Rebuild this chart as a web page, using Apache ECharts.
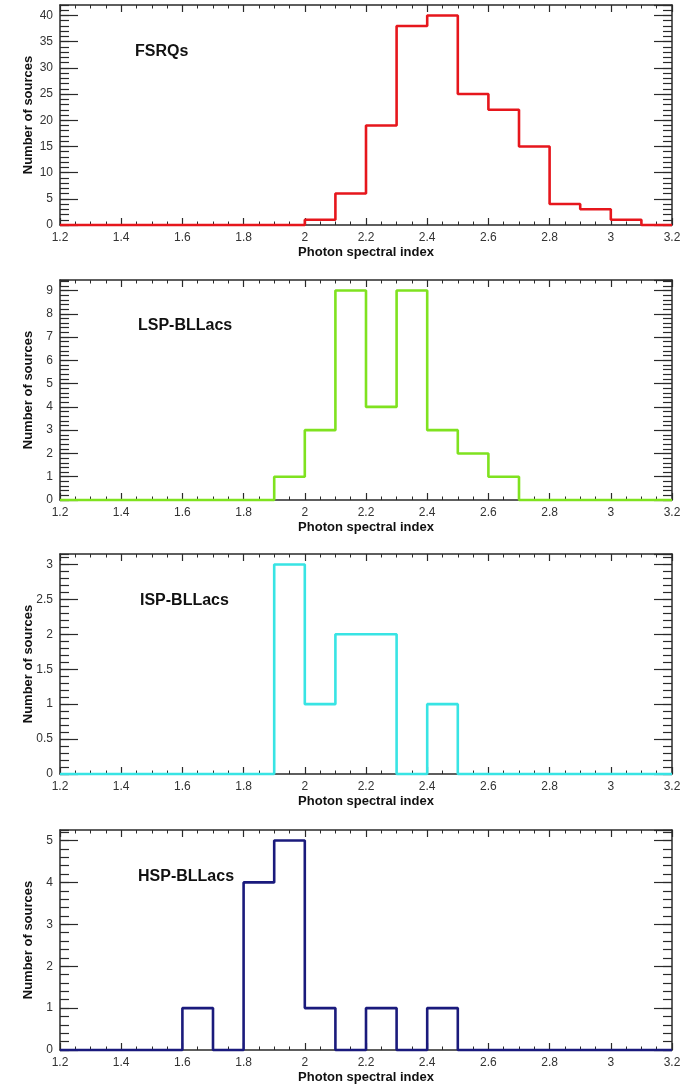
<!DOCTYPE html>
<html>
<head>
<meta charset="utf-8">
<script src="https://cdn.jsdelivr.net/npm/echarts@6/dist/echarts.min.js"></script>
<style>
html,body{margin:0;padding:0;background:#fff;}
#chart{width:684px;height:1085px;}
</style>
</head>
<body>
<div id="chart"></div>
<script>
// Bin edges of the photon spectral index histograms (width 0.1)
const binEdges = [1.2,1.3,1.4,1.5,1.6,1.7,1.8,1.9,2.0,2.1,2.2,2.3,2.4,2.5,2.6,2.7,2.8,2.9,3.0,3.1,3.2];
// Counts per bin (20 bins)
const fsrqCounts = [0,0,0,0,0,0,0,0,1,6,19,38,40,25,22,15,4,3,1,0];
const lspCounts  = [0,0,0,0,0,0,0,1,3,9,4,9,3,2,1,0,0,0,0,0];
const ispCounts  = [0,0,0,0,0,0,0,3,1,2,2,0,1,0,0,0,0,0,0,0];
const hspCounts  = [0,0,0,0,1,0,4,5,1,0,1,0,1,0,0,0,0,0,0,0];
const panelNames = ['FSRQs','LSP-BLLacs','ISP-BLLacs','HSP-BLLacs'];
const panelCounts = [fsrqCounts, lspCounts, ispCounts, hspCounts];
const panelColors = ['#e6161c','#7fe21f','#38e4e4','#1a1a7c'];
const yMaxes = [42, 9.45, 3.15, 5.25];
const yMajorSteps = [5, 1, 0.5, 1];
const yMinorSteps = [1, 0.2, 0.1, 0.2];
const xMin = 1.2, xMax = 3.2, xStep = 0.2;
const xTitle = 'Photon spectral index';
const yTitle = 'Number of sources';

const gridTops = [5, 280, 554, 830];
const gridHeight = 220;
const frameColor = '#2a2a2a';
const labelColor = '#333';
const fontFam = '"Liberation Sans", Arial, Helvetica, sans-serif';

const grids = [], xAxes = [], yAxes = [], series = [], graphics = [];
const nameY = [53, 327, 602, 878];
const nameX = [135, 138, 140, 138];

for (let p = 0; p < 4; p++) {
  grids.push({left: 60, right: 12, top: gridTops[p], height: gridHeight});
  const lineStyle = {color: frameColor, width: 1.5};
  // bottom x axis
  xAxes.push({
    gridIndex: p, type: 'value', position: 'bottom', min: xMin, max: xMax, interval: xStep,
    axisLine: {show: true, onZero: false, lineStyle},
    axisTick: {show: true, inside: true, length: 7, lineStyle: {color: frameColor, width: 1.2}},
    minorTick: {show: true, splitNumber: 4, length: 3.5, lineStyle: {color: frameColor, width: 1}},
    axisLabel: {show: true, margin: 7, color: labelColor, fontSize: 12, fontFamily: fontFam},
    splitLine: {show: false},
    name: xTitle, nameLocation: 'middle', nameGap: 21, nameMoveOverlap: false,
    nameTextStyle: {fontWeight: 'bold', fontSize: 13, color: '#111', fontFamily: fontFam}
  });
  // top x axis (mirror)
  xAxes.push({
    gridIndex: p, type: 'value', position: 'top', min: xMin, max: xMax, interval: xStep,
    axisLine: {show: true, onZero: false, lineStyle},
    axisTick: {show: true, inside: true, length: 7, lineStyle: {color: frameColor, width: 1.2}},
    minorTick: {show: true, splitNumber: 4, length: 3.5, lineStyle: {color: frameColor, width: 1}},
    axisLabel: {show: false},
    splitLine: {show: false}
  });
  const yBase = {gridIndex: p, type: 'value', min: 0, max: yMaxes[p], splitLine: {show: false}};
  // left major
  yAxes.push(Object.assign({}, yBase, {
    position: 'left', interval: yMajorSteps[p],
    axisLine: {show: true, onZero: false, lineStyle},
    axisTick: {show: true, inside: true, length: 18, lineStyle: {color: frameColor, width: 1.2}},
    axisLabel: {show: true, margin: 7, color: labelColor, fontSize: 12, fontFamily: fontFam, showMaxLabel: false},
    name: yTitle, nameLocation: 'middle', nameGap: 25.5, nameMoveOverlap: false,
    nameTextStyle: {fontWeight: 'bold', fontSize: 13, color: '#111', fontFamily: fontFam}
  }));
  // left minor
  yAxes.push(Object.assign({}, yBase, {
    position: 'left', interval: yMinorSteps[p],
    axisLine: {show: false, onZero: false},
    axisTick: {show: true, inside: true, length: 9, lineStyle: {color: frameColor, width: 1.2}},
    axisLabel: {show: false}
  }));
  // right major
  yAxes.push(Object.assign({}, yBase, {
    position: 'right', interval: yMajorSteps[p],
    axisLine: {show: true, onZero: false, lineStyle},
    axisTick: {show: true, inside: true, length: 18, lineStyle: {color: frameColor, width: 1.2}},
    axisLabel: {show: false}
  }));
  // right minor
  yAxes.push(Object.assign({}, yBase, {
    position: 'right', interval: yMinorSteps[p],
    axisLine: {show: false, onZero: false},
    axisTick: {show: true, inside: true, length: 9, lineStyle: {color: frameColor, width: 1.2}},
    axisLabel: {show: false}
  }));

  const counts = panelCounts[p];
  const data = binEdges.map((e, i) => [e, counts[Math.min(i, counts.length - 1)]]);
  series.push({
    type: 'line', xAxisIndex: 2 * p, yAxisIndex: 4 * p, step: 'end', data,
    showSymbol: false, symbol: 'none', clip: false, z: 5,
    lineStyle: {color: panelColors[p], width: 2.6}
  });

  graphics.push({
    type: 'text', left: nameX[p], top: nameY[p] - 9,
    style: {text: panelNames[p], font: 'bold 16px ' + fontFam, fill: '#111'}
  });
}

const chart = echarts.init(document.getElementById('chart'), null, {renderer: 'canvas'});
chart.setOption({
  animation: false,
  backgroundColor: '#fff',
  grid: grids, xAxis: xAxes, yAxis: yAxes, series, graphic: graphics
});
</script>
</body>
</html>
